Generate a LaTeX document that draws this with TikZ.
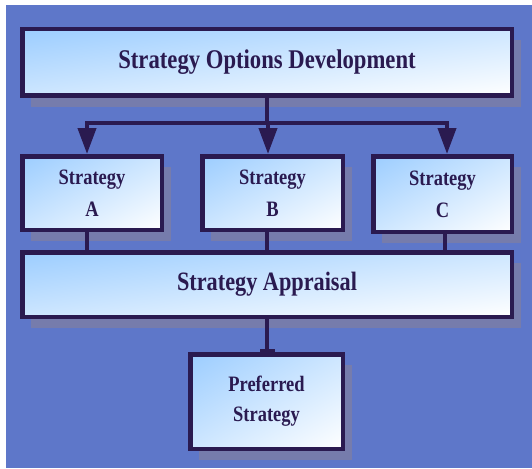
\documentclass[tikz,border=0pt]{standalone}
\usepackage{fontspec}
\setmainfont{Liberation Serif}[FakeStretch=0.84]
\usetikzlibrary{arrows.meta,shadows,shadings}
\definecolor{bgblue}{HTML}{5E77C9}
\definecolor{ink}{HTML}{2A1A50}
\definecolor{shade}{HTML}{767CAC}
\definecolor{paleblue}{HTML}{9CCDFF}
\definecolor{midblue}{HTML}{CDE6FF}
\tikzset{
  box/.style={draw=ink, line width=4.5pt, text=ink, align=center, inner sep=0pt,
    upper left=paleblue, lower right=white, upper right=midblue, lower left=midblue,
    drop shadow={shadow xshift=9pt, shadow yshift=-11pt, fill=shade, opacity=1}},
  bigtext/.style={font=\fontsize{27}{30}\selectfont\bfseries},
  smalltext/.style={font=\fontsize{22}{32}\selectfont\bfseries},
  conn/.style={draw=ink, line width=4pt},
  tip/.style={-{Triangle[length=26pt,width=18pt]}}
}
\begin{document}
\begin{tikzpicture}[x=1pt,y=-1pt]
  % canvas: white strip on the left and top, blue ground
  \useasboundingbox (0,0) rectangle (532,468);
  \fill[white] (0,0) rectangle (532,468);
  \fill[bgblue] (6,5) rectangle (532,468);

  % boxes
  \node[box, bigtext, minimum width=489.5pt, minimum height=66.5pt] (dev) at (267,62.5) {Strategy Options Development};
  \node[box, smalltext, minimum width=139.5pt, minimum height=73.5pt] (sa) at (92,193) {Strategy\\A};
  \node[box, smalltext, minimum width=140.5pt, minimum height=73.5pt] (sb) at (272.5,193) {Strategy\\B};
  \node[box, smalltext, minimum width=138.5pt, minimum height=75.5pt] (sc) at (442.5,194) {Strategy\\C};
  \node[box, bigtext, font=\fontsize{26.5}{30}\selectfont\bfseries, minimum width=489.5pt, minimum height=64.5pt] (app) at (267,284.5) {Strategy Appraisal};
  \node[box, smalltext, font=\fontsize{22}{30}\selectfont\bfseries, minimum width=152.5pt, minimum height=94.5pt] (pref) at (266.5,401.5) {Preferred\\Strategy};

  % fan-out from the development box to the three options
  \coordinate (bus) at (267,122.5);
  \draw[conn] (dev.south) -- (bus);
  \draw[conn, tip] (bus) -| ([xshift=-5pt]sa.north);
  \draw[conn, tip] (bus) -| ([xshift=-4.5pt]sb.north);
  \draw[conn, tip] (bus) -| ([xshift=4.5pt]sc.north);

  % options feed the appraisal
  \draw[conn] ([xshift=-5pt]sa.south) -- ([xshift=-5pt]sa.south |- app.north);
  \draw[conn] ([xshift=-5.5pt]sb.south) -- ([xshift=-5.5pt]sb.south |- app.north);
  \draw[conn] ([xshift=2.5pt]sc.south) -- ([xshift=2.5pt]sc.south |- app.north);

  % appraisal leads to the preferred strategy
  \draw[conn, -{Rectangle[length=3pt,width=15pt]}] (app.south) -- (app.south |- pref.north);
\end{tikzpicture}
\end{document}
